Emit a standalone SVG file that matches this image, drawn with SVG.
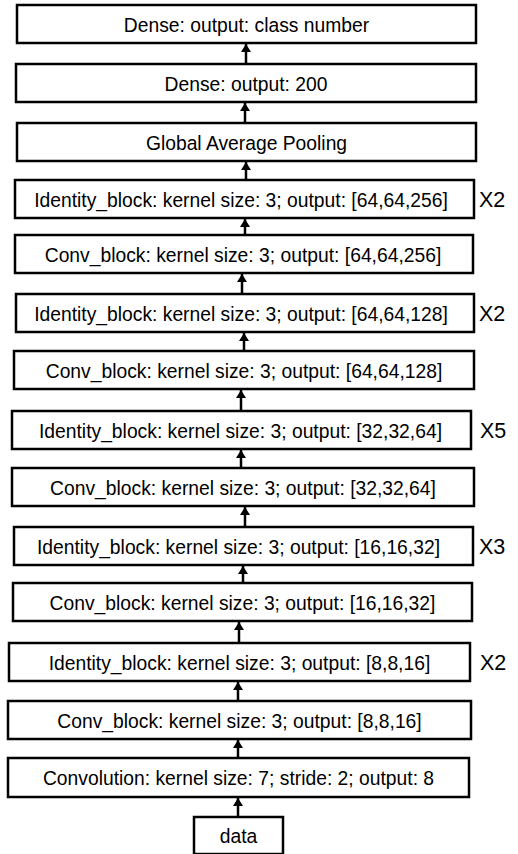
<svg xmlns="http://www.w3.org/2000/svg" width="518" height="854" viewBox="0 0 518 854">
<defs>
<marker id="ah" viewBox="0 0 8 10" refX="8" refY="5" markerWidth="8" markerHeight="10" markerUnits="userSpaceOnUse" orient="auto">
<path d="M0,0 L8,5 L0,10 z" fill="#000"/>
</marker>
</defs>
<style>
rect{fill:#fff;stroke:#000;stroke-width:2.5}
text{font-family:"Liberation Sans",Arial,sans-serif;font-size:19.3px;fill:#000;text-anchor:middle}
.x{font-size:21.5px;text-anchor:start}
#edges line{stroke:#000;stroke-width:2.5;marker-end:url(#ah)}
</style>
<rect x="0" y="0" width="518" height="854" style="fill:#fff;stroke:none"/>
<g id="n1"><rect x="17" y="5" width="459" height="38"/><text x="246.5" y="31.5">Dense: output: class number</text></g>
<g id="n2"><rect x="16" y="64" width="460" height="38"/><text x="246" y="90.5">Dense: output: 200</text></g>
<g id="n3"><rect x="17" y="123" width="459" height="38"/><text x="246.5" y="149.5">Global Average Pooling</text></g>
<g id="n4"><rect x="15" y="180" width="459" height="38"/><text x="241" y="206.5">Identity_block: kernel size: 3; output: [64,64,256]</text><text class="x" x="479" y="207">X2</text></g>
<g id="n5"><rect x="15" y="235" width="458" height="38"/><text x="243" y="261.5">Conv_block: kernel size: 3; output: [64,64,256]</text></g>
<g id="n6"><rect x="16" y="294" width="458" height="38"/><text x="241" y="320.5">Identity_block: kernel size: 3; output: [64,64,128]</text><text class="x" x="479" y="320.5">X2</text></g>
<g id="n7"><rect x="14" y="351" width="460" height="38"/><text x="244" y="377.5">Conv_block: kernel size: 3; output: [64,64,128]</text></g>
<g id="n8"><rect x="12" y="411" width="459" height="38"/><text x="240.5" y="437.5">Identity_block: kernel size: 3; output: [32,32,64]</text><text class="x" x="480" y="437.5">X5</text></g>
<g id="n9"><rect x="12" y="468" width="462" height="38"/><text x="243" y="494.5">Conv_block: kernel size: 3; output: [32,32,64]</text></g>
<g id="n10"><rect x="14" y="527" width="459" height="38"/><text x="238.5" y="553.5">Identity_block: kernel size: 3; output: [16,16,32]</text><text class="x" x="479" y="553.5">X3</text></g>
<g id="n11"><rect x="13" y="583" width="459" height="38"/><text x="242.5" y="609.5">Conv_block: kernel size: 3; output: [16,16,32]</text></g>
<g id="n12"><rect x="9" y="643" width="461" height="38"/><text x="239.5" y="669.5">Identity_block: kernel size: 3; output: [8,8,16]</text><text class="x" x="480" y="669.5">X2</text></g>
<g id="n13"><rect x="8" y="701" width="463" height="38"/><text x="239.5" y="727.5">Conv_block: kernel size: 3; output: [8,8,16]</text></g>
<g id="n14"><rect x="8" y="758" width="461" height="39"/><text x="238.5" y="784.5">Convolution: kernel size: 7; stride: 2; output: 8</text></g>
<g id="n15"><rect x="194" y="817" width="89" height="37"/><text x="238.5" y="843">data</text></g>
<g id="edges">
<line x1="246" y1="64" x2="246" y2="44"/>
<line x1="245" y1="123" x2="245" y2="103"/>
<line x1="246" y1="180" x2="246" y2="162"/>
<line x1="245" y1="235" x2="245" y2="219"/>
<line x1="242" y1="294" x2="242" y2="274"/>
<line x1="244" y1="351" x2="244" y2="333"/>
<line x1="241" y1="411" x2="241" y2="390"/>
<line x1="241" y1="468" x2="241" y2="450"/>
<line x1="245" y1="527" x2="245" y2="507"/>
<line x1="243" y1="583" x2="243" y2="566"/>
<line x1="239" y1="643" x2="239" y2="622"/>
<line x1="238" y1="701" x2="238" y2="682"/>
<line x1="238" y1="758" x2="238" y2="740"/>
<line x1="238" y1="817" x2="238" y2="798"/>
</g>
</svg>
